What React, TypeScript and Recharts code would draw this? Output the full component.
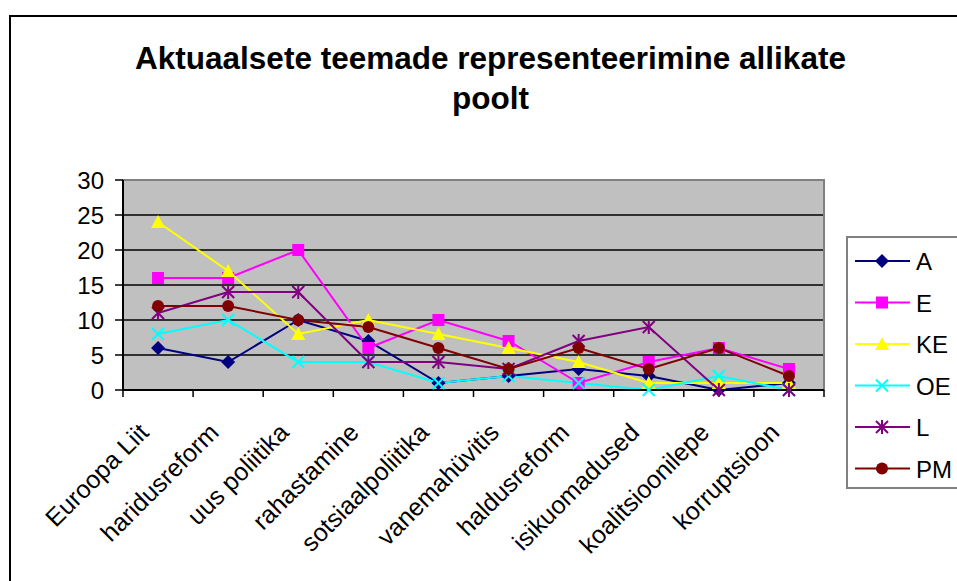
import React from 'react'
import {
  LineChart, Line, XAxis, YAxis, CartesianGrid, Legend, ReferenceArea,
} from 'recharts'

const categories = [
  'Euroopa Liit', 'haridusreform', 'uus poliitika', 'rahastamine', 'sotsiaalpoliitika',
  'vanemahüvitis', 'haldusreform', 'isikuomadused', 'koalitsioonilepe', 'korruptsioon',
]
const seriesA  = [6, 4, 10, 7, 1, 2, 3, 2, 0, 1]
const seriesE  = [16, 16, 20, 6, 10, 7, 1, 4, 6, 3]
const seriesKE = [24, 17, 8, 10, 8, 6, 4, 1, 1, 1]
const seriesOE = [8, 10, 4, 4, 1, 2, 1, 0, 2, 0]
const seriesL  = [11, 14, 14, 4, 4, 3, 7, 9, 0, 0]
const seriesPM = [12, 12, 10, 9, 6, 3, 6, 3, 6, 2]
const yTicks = [0, 5, 10, 15, 20, 25, 30]
const gridValues = [5, 10, 15, 20, 25]

const TITLE_1 = 'Aktuaalsete teemade representeerimine allikate'
const TITLE_2 = 'poolt'

type Shape = 'diamond' | 'square' | 'triangle' | 'x' | 'star' | 'circle'

const series: { key: string; name: string; color: string; shape: Shape; values: number[] }[] = [
  { key: 'A',  name: 'A',  color: '#000080', shape: 'diamond',  values: seriesA },
  { key: 'E',  name: 'E',  color: '#FF00FF', shape: 'square',   values: seriesE },
  { key: 'KE', name: 'KE', color: '#FFFF00', shape: 'triangle', values: seriesKE },
  { key: 'OE', name: 'OE', color: '#00FFFF', shape: 'x',        values: seriesOE },
  { key: 'L',  name: 'L',  color: '#800080', shape: 'star',     values: seriesL },
  { key: 'PM', name: 'PM', color: '#800000', shape: 'circle',   values: seriesPM },
]

const chartData = categories.map((name, i) => {
  const row: Record<string, string | number> = { name }
  series.forEach(s => { row[s.key] = s.values[i] })
  return row
})

const FONT = '"Liberation Sans", Arial, sans-serif'
const W = 957
const H = 581
const PLOT_LEFT = 123
const PLOT_RIGHT = 824
const BAND = (PLOT_RIGHT - PLOT_LEFT) / categories.length

function Marker({ shape, cx, cy, color }: { shape: Shape; cx: number; cy: number; color: string }) {
  const r = 6
  switch (shape) {
    case 'diamond':
      return <polygon points={`${cx},${cy - r - 1} ${cx + r + 1},${cy} ${cx},${cy + r + 1} ${cx - r - 1},${cy}`} fill={color} />
    case 'square':
      return <rect x={cx - r} y={cy - r} width={r * 2} height={r * 2} fill={color} />
    case 'triangle':
      return <polygon points={`${cx},${cy - r - 1} ${cx + r + 1},${cy + r} ${cx - r - 1},${cy + r}`} fill={color} />
    case 'x':
      return (
        <g stroke={color} strokeWidth={2}>
          <line x1={cx - r} y1={cy - r} x2={cx + r} y2={cy + r} />
          <line x1={cx - r} y1={cy + r} x2={cx + r} y2={cy - r} />
        </g>
      )
    case 'star':
      return (
        <g stroke={color} strokeWidth={2}>
          <line x1={cx - r} y1={cy - r} x2={cx + r} y2={cy + r} />
          <line x1={cx - r} y1={cy + r} x2={cx + r} y2={cy - r} />
          <line x1={cx} y1={cy - r - 1} x2={cx} y2={cy + r + 1} />
        </g>
      )
    default:
      return <circle cx={cx} cy={cy} r={r} fill={color} />
  }
}

const CategoryTick = (props: any) => {
  const { x, y, payload, index } = props
  const last = index === categories.length - 1
  return (
    <g>
      <line x1={x - BAND / 2} y1={y} x2={x - BAND / 2} y2={y + 7} stroke="#000" strokeWidth={1.5} />
      {last && <line x1={x + BAND / 2} y1={y} x2={x + BAND / 2} y2={y + 7} stroke="#000" strokeWidth={1.5} />}
      <text
        transform={`translate(${x - 8},${y + 44}) rotate(-45)`}
        textAnchor="end"
        fontSize={25}
        fontFamily={FONT}
        fill="#000"
      >
        {payload.value}
      </text>
    </g>
  )
}

const renderLegend = () => (
  <svg width={125} height={253} style={{ display: 'block' }}>
    <rect x={1} y={1} width={140} height={251} fill="#fff" stroke="#808080" strokeWidth={2} />
    {series.map((s, i) => {
      const cy = 25 + i * 41.5
      return (
        <g key={s.key}>
          <line x1={9} y1={cy} x2={64} y2={cy} stroke={s.color} strokeWidth={2} />
          <Marker shape={s.shape} cx={36} cy={cy} color={s.color} />
          <text x={70} y={cy + 9} fontSize={24} fontFamily={FONT} fill="#000">{s.name}</text>
        </g>
      )
    })}
  </svg>
)

export default function App() {
  return (
    <div style={{ position: 'absolute', left: 0, top: 0, width: W, height: H, overflow: 'hidden', background: '#fff' }}>
      {/* outer chart frame, cut off at right and bottom */}
      <div style={{
        position: 'absolute', left: 9, top: 15, width: 2000, height: 2000,
        borderLeft: '2px solid #000', borderTop: '2px solid #000',
      }} />

      <div style={{
        position: 'absolute', left: 0, top: 38, width: 981, textAlign: 'center',
        fontFamily: FONT, fontWeight: 'bold', fontSize: 31.5, lineHeight: '40px', color: '#000',
      }}>
        <div>{TITLE_1}</div>
        <div>{TITLE_2}</div>
      </div>

      <div style={{ position: 'absolute', left: 0, top: 0 }}>
        <LineChart
          width={W}
          height={H}
          data={chartData}
          margin={{ top: 180, right: W - PLOT_RIGHT, bottom: 41, left: PLOT_LEFT - 60 }}
        >
          <CartesianGrid vertical={false} stroke="#000" strokeWidth={1.5} fill="#C0C0C0" horizontalValues={gridValues} />
          <ReferenceArea y1={0} y2={30} fill="none" stroke="#808080" strokeWidth={2} />
          <XAxis
            dataKey="name"
            scale="band"
            interval={0}
            height={150}
            tickSize={0}
            tickMargin={0}
            tickLine={false}
            axisLine={{ stroke: '#000', strokeWidth: 2 }}
            tick={<CategoryTick />}
          />
          <YAxis
            width={60}
            domain={[0, 30]}
            ticks={yTicks}
            interval={0}
            tickSize={8}
            tickMargin={11}
            axisLine={{ stroke: '#000', strokeWidth: 2 }}
            tickLine={{ stroke: '#000', strokeWidth: 1.5 }}
            tick={{ fill: '#000', fontSize: 24, fontFamily: FONT }}
          />
          <Legend
            layout="horizontal"
            verticalAlign="middle"
            align="center"
            content={renderLegend}
            wrapperStyle={{ left: 846, top: 236, width: 125, height: 253 }}
          />
          {series.map(s => (
            <Line
              key={s.key}
              dataKey={s.key}
              name={s.name}
              type="linear"
              stroke={s.color}
              strokeWidth={2}
              isAnimationActive={false}
              activeDot={false}
              dot={(p: any) => <Marker key={`${s.key}-${p.index}`} shape={s.shape} cx={p.cx} cy={p.cy} color={s.color} />}
            />
          ))}
        </LineChart>
      </div>
    </div>
  )
}
